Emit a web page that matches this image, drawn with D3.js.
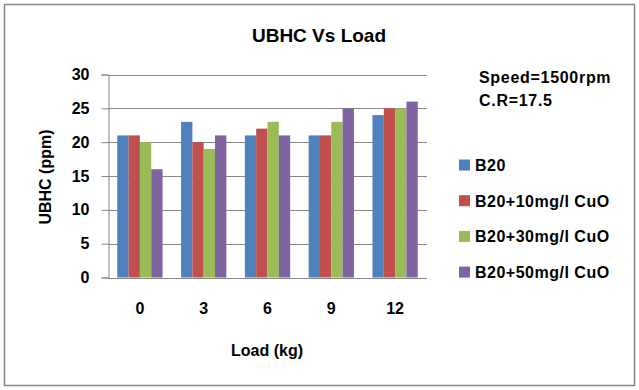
<!DOCTYPE html>
<html>
<head>
<meta charset="utf-8">
<script src="https://cdn.jsdelivr.net/npm/d3@7"></script>
<style>
  body { margin: 0; background: #fff; }
  text { font-family: "Liberation Sans", Arial, sans-serif; font-weight: bold; fill: #000; }
</style>
</head>
<body>
<div id="chart"></div>
<script>
// Data
const loads = ["0", "3", "6", "9", "12"];
const seriesNames = ["B20", "B20+10mg/l CuO", "B20+30mg/l CuO", "B20+50mg/l CuO"];
const b20 = [21, 23, 21, 21, 24];
const cuo10 = [21, 20, 22, 21, 25];
const cuo30 = [20, 19, 23, 23, 25];
const cuo50 = [16, 21, 21, 25, 26];
const yTicks = [0, 5, 10, 15, 20, 25, 30];
const colors = ["#4F81BD", "#C0504D", "#9BBB59", "#8064A2"];

const allSeries = [b20, cuo10, cuo30, cuo50];

const width = 639, height = 390;
const plot = { left: 108, right: 427, top: 74.5, bottom: 277.5 };

const svg = d3.select("#chart")
    .append("svg")
    .attr("width", width)
    .attr("height", height);

// Outer frame
svg.append("rect")
    .attr("x", 4.5).attr("y", 4.5)
    .attr("width", 630).attr("height", 381)
    .attr("fill", "#fff")
    .attr("stroke", "#868686")
    .attr("stroke-width", 1.5);

// Scales
const x0 = d3.scaleBand()
    .domain(loads)
    .range([plot.left, plot.right])
    .paddingInner(0.29)
    .paddingOuter(0.145);

const x1 = d3.scaleBand()
    .domain(seriesNames)
    .range([0, x0.bandwidth()]);

const y = d3.scaleLinear()
    .domain([0, 30])
    .range([plot.bottom, plot.top]);

// Gridlines
svg.append("g")
    .selectAll("line")
    .data(yTicks.filter(d => d > 0))
    .enter()
    .append("line")
    .attr("x1", plot.left)
    .attr("x2", plot.right)
    .attr("y1", d => Math.round(y(d)) + 0.5)
    .attr("y2", d => Math.round(y(d)) + 0.5)
    .attr("stroke", "#868686")
    .attr("stroke-width", 1);

// Bars
const groups = svg.append("g")
    .selectAll("g")
    .data(loads)
    .enter()
    .append("g")
    .attr("transform", d => `translate(${x0(d)},0)`);

groups.selectAll("rect")
    .data((d, i) => seriesNames.map((s, j) => ({ s, v: allSeries[j][i], c: colors[j] })))
    .enter()
    .append("rect")
    .attr("x", d => x1(d.s))
    .attr("y", d => y(d.v))
    .attr("width", x1.bandwidth())
    .attr("height", d => y(0) - y(d.v))
    .attr("fill", d => d.c);

// Y axis
const yAxis = svg.append("g")
    .attr("transform", `translate(${plot.left + 0.5},0)`)
    .call(d3.axisLeft(y).tickValues(yTicks).tickSize(7).tickPadding(12));
yAxis.select(".domain").attr("stroke", "#868686");
yAxis.selectAll(".tick line").attr("stroke", "#868686");
yAxis.selectAll(".tick text")
    .style("font-size", "16px")
    .style("font-family", "'Liberation Sans', Arial, sans-serif")
    .style("font-weight", "bold")
    .attr("fill", "#000");

// X axis
const xAxis = svg.append("g")
    .attr("transform", `translate(0,${Math.round(plot.bottom) + 0.5})`)
    .call(d3.axisBottom(x0).tickSize(0).tickPadding(24));
xAxis.select(".domain").attr("stroke", "#868686").attr("d", `M${plot.left},0H${plot.right}`);
xAxis.selectAll(".tick text")
    .style("font-size", "16px")
    .style("font-family", "'Liberation Sans', Arial, sans-serif")
    .style("font-weight", "bold")
    .attr("fill", "#000");

// Title
svg.append("text")
    .attr("x", 319)
    .attr("y", 42)
    .attr("text-anchor", "middle")
    .style("font-size", "19px")
    .text("UBHC Vs Load");

// Axis titles
svg.append("text")
    .attr("x", 267)
    .attr("y", 356)
    .attr("text-anchor", "middle")
    .style("font-size", "16px")
    .text("Load (kg)");

svg.append("text")
    .attr("transform", "translate(51,177) rotate(-90)")
    .attr("text-anchor", "middle")
    .style("font-size", "16px")
    .text("UBHC (ppm)");

// Annotation
svg.append("text")
    .attr("x", 479)
    .attr("y", 83)
    .style("font-size", "16px")
    .style("letter-spacing", "0.7px")
    .text("Speed=1500rpm");

svg.append("text")
    .attr("x", 479)
    .attr("y", 106)
    .style("font-size", "16px")
    .style("letter-spacing", "0.7px")
    .text("C.R=17.5");

// Legend
const legend = svg.append("g")
    .selectAll("g")
    .data(seriesNames)
    .enter()
    .append("g")
    .attr("transform", (d, i) => `translate(459,${165 + i * 35.7})`);

legend.append("rect")
    .attr("x", 0)
    .attr("y", -5.5)
    .attr("width", 11)
    .attr("height", 11)
    .attr("fill", (d, i) => colors[i]);

legend.append("text")
    .attr("x", 16)
    .attr("y", 6)
    .style("font-size", "16px")
    .style("letter-spacing", "0.5px")
    .text(d => d);
</script>
</body>
</html>
